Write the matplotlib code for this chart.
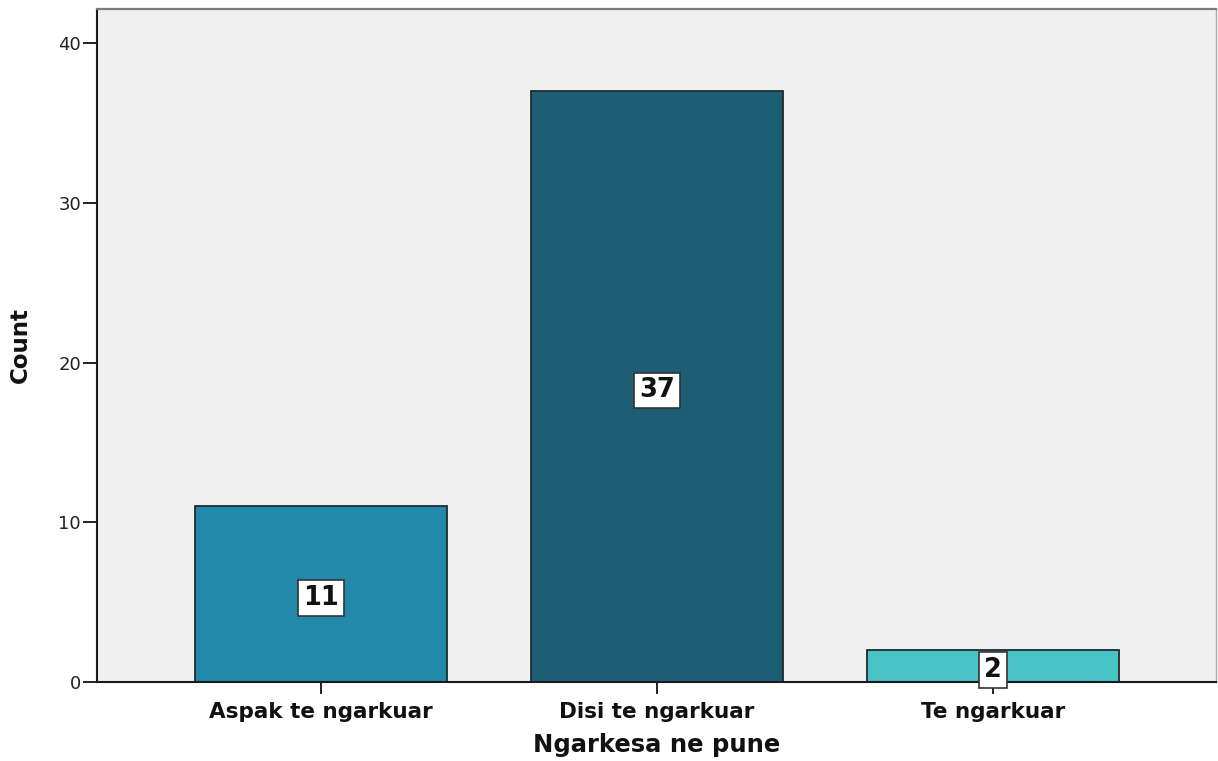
import matplotlib
matplotlib.use("Agg")
import matplotlib.pyplot as plt

# Workload responses (Ngarkesa ne pune) and their counts
categories = ["Aspak te ngarkuar", "Disi te ngarkuar", "Te ngarkuar"]
counts = [11, 37, 2]
bar_colors = ["#2389ab", "#1d5e74", "#48c3c6"]
y_ticks = [0, 10, 20, 30, 40]

plt.rcParams["font.family"] = ["DejaVu Sans"]

fig = plt.figure(figsize=(12.18, 7.61), dpi=100)
ax = fig.add_axes([0.0796, 0.1038, 0.9187, 0.8844])
ax.set_facecolor("#f0f0f0")

x = list(range(len(categories)))
bars = ax.bar(x, counts, width=0.75, color=bar_colors,
              edgecolor="#1e2a2e", linewidth=1.3, zorder=2)

# value labels in white boxes at mid-height of each bar
for xi, v in zip(x, counts):
    ax.text(xi, v / 2 - 0.25, str(v), ha="center", va="center",
            fontsize=18.5, fontweight="bold", color="#111111", zorder=4,
            clip_on=False,
            bbox=dict(boxstyle="square,pad=0.19", facecolor="white",
                      edgecolor="#333333", linewidth=1.2))

ax.set_xlim(-0.667, 2.664)
ax.set_ylim(0, 42.13)
ax.set_xticks(x)
ax.set_xticklabels(categories, fontsize=15.5, fontweight="bold", color="#111111")
ax.set_yticks(y_ticks)
ax.set_yticklabels([str(t) for t in y_ticks], fontsize=13, color="#222222")

ax.tick_params(axis="y", direction="out", length=10, width=1.4,
               color="#222222", pad=1.5)
ax.tick_params(axis="x", direction="out", length=8.5, width=1.4,
               color="#222222", pad=6)

for side in ("left", "bottom"):
    ax.spines[side].set_color("#1a1a1a")
    ax.spines[side].set_linewidth(1.5)
ax.spines["top"].set_color("#7a7a7a")
ax.spines["top"].set_linewidth(1.6)
ax.spines["right"].set_color("#aaaaaa")
ax.spines["right"].set_linewidth(1.0)

ax.set_xlabel("Ngarkesa ne pune", fontsize=17.5, fontweight="bold",
              color="#111111", labelpad=8)
ax.set_ylabel("Count", fontsize=16.5, fontweight="bold", color="#111111",
              labelpad=19)

fig.savefig("out.png", dpi=100, facecolor="white")
